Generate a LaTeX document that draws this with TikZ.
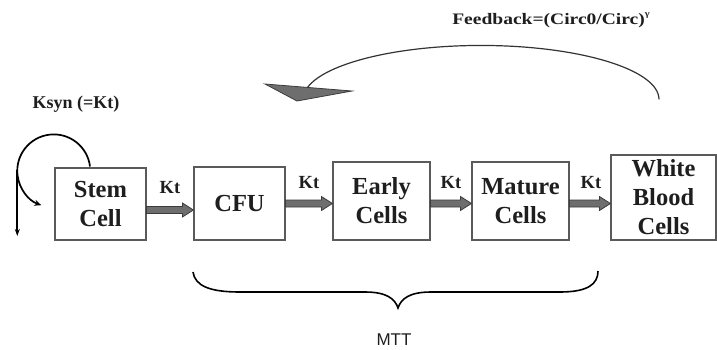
\documentclass[tikz,border=0pt]{standalone}
\usepackage{fontspec}
\setmainfont{Liberation Serif}
\newfontfamily\labelsans{Liberation Sans}
\usetikzlibrary{arrows.meta,calc}

\definecolor{boxline}{HTML}{5A5A5A}
\definecolor{flowfill}{HTML}{6E6E6E}
\definecolor{flowline}{HTML}{3C3C3C}
\definecolor{ink}{HTML}{1E1E1E}

% thick grey block arrow from the east side of #1 to the west side of #2 at height #3
\newcommand\flowarrow[3]{%
  \draw[flow] let \p1=(#1.east), \p2=(#2.west), \p3=(0,#3) in
    (\x1,\y3+3.5pt) -- (\x2-11pt,\y3+3.5pt) -- (\x2-11pt,\y3+7pt) -- (\x2,\y3)
    -- (\x2-11pt,\y3-7pt) -- (\x2-11pt,\y3-3.5pt) -- (\x1,\y3-3.5pt) -- cycle;}

\begin{document}
\begin{tikzpicture}[x=1pt,y=-1pt,
  cellbox/.style={draw=boxline, line width=1.1pt, fill=white, align=center, text=ink,
    font=\fontsize{24.5}{29}\selectfont\bfseries, inner sep=0pt},
  ktlab/.style={font=\fontsize{18.5}{20}\selectfont\bfseries, text=ink, inner sep=0pt},
  flow/.style={fill=flowfill, draw=flowline, line width=0.8pt, line join=miter},
  loopline/.style={draw=black, line width=1.7pt},
  fbline/.style={draw=black!80, line width=1.2pt},
  braceline/.style={draw=black, line width=1.6pt}]

\useasboundingbox (0,0) rectangle (717,349);

% compartments
\node[cellbox, minimum width=91pt, minimum height=72pt] (stem)   at (100.5,204)   {Stem\\Cell};
\node[cellbox, minimum width=91pt, minimum height=73pt] (cfu)    at (239.5,203.5) {CFU};
\node[cellbox, minimum width=97pt, minimum height=78pt] (early)  at (381.5,201)   {Early\\Cells};
\node[cellbox, minimum width=97pt, minimum height=78pt] (mature) at (520.5,201)   {Mature\\Cells};
\node[cellbox, minimum width=105pt, minimum height=85pt] (wbc)   at (663.5,197.5) {White\\Blood\\Cells};

% transit between compartments
\flowarrow{stem}{cfu}{210}
\flowarrow{cfu}{early}{203.5}
\flowarrow{early}{mature}{203.5}
\flowarrow{mature}{wbc}{203.5}

\node[ktlab] (kt1) at (170,188) {Kt};
\node[ktlab] (kt2) at (309,183) {Kt};
\node[ktlab] (kt3) at (451,183) {Kt};
\node[ktlab] (kt4) at (591,183) {Kt};

% self-renewal loop of the stem cells
\node[ktlab, font=\fontsize{18}{20}\selectfont\bfseries] (ksyn) at (76,104) {Ksyn (=Kt)};
\coordinate (loopstart) at ($(stem.north)+(-10.5,-1)$);
\draw[loopline, -{Stealth[length=7pt,width=6pt]}]
  (loopstart) arc[start angle=-7, end angle=-250, radius=36.5];
\coordinate (loopleft) at (17.3,170);
\coordinate (loopdown) at (17.3,236);
\draw[loopline, -{Stealth[length=7pt,width=5pt]}] (loopleft) -- (loopdown);

% feedback from circulating cells
\node[font=\fontsize{16}{18}\selectfont\bfseries, xscale=1.22, text=ink, inner sep=0pt] (fbtext)
  at (551,20) {Feedback=(Circ0/Circ)\raisebox{0.5em}{\fontsize{8.5}{8.5}\selectfont γ}};
\coordinate (fbstart) at ($(wbc.north)+(-4.5,-55)$);
\draw[fbline] (fbstart) arc[start angle=0, end angle=-167, x radius=178, y radius=54];
\filldraw[flow] (265,84) -- (352,91) -- (297,101) -- cycle;

% mean transit time brace
\draw[braceline] (193,272) .. controls (195,286) and (210,292) .. (240,292) -- (365,292)
  .. controls (387,292) and (395,299) .. (398,308)
  .. controls (401,299) and (409,292) .. (431,292) -- (560,292)
  .. controls (588,292) and (598,284) .. (598,271);
\node[font=\labelsans\fontsize{17}{20}\selectfont, text=ink, inner sep=0pt] (mtt) at (394,339.5) {MTT};

\end{tikzpicture}
\end{document}
